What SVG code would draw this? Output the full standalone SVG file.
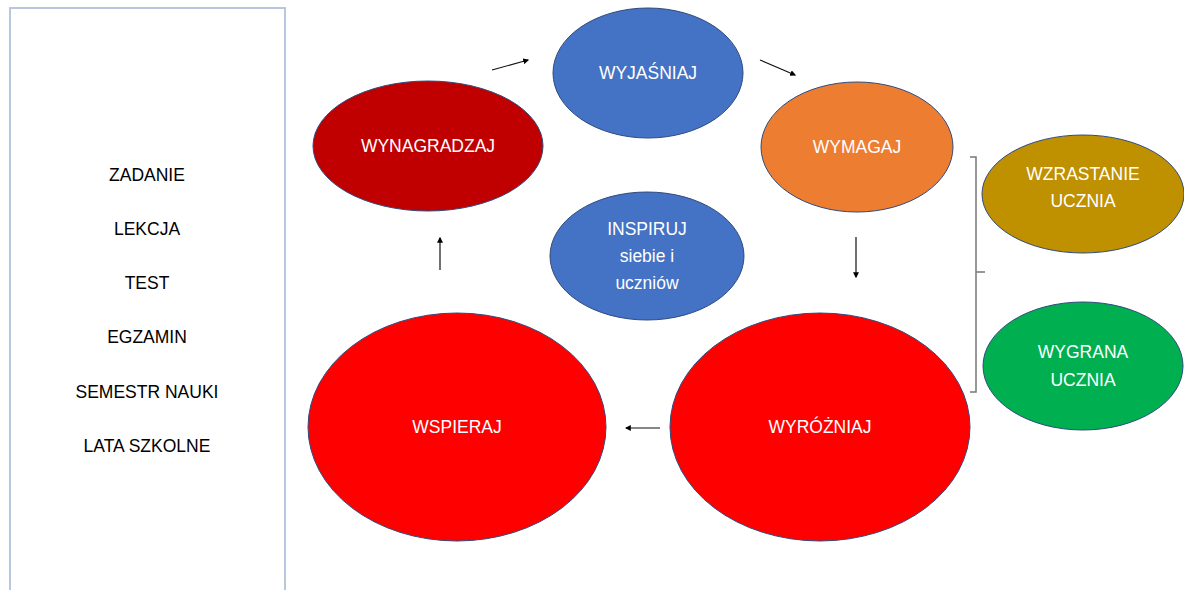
<svg xmlns="http://www.w3.org/2000/svg" width="1184" height="590" viewBox="0 0 1184 590">
<defs>
<marker id="ah" viewBox="0 0 10 10" refX="8" refY="5" markerWidth="5" markerHeight="5" orient="auto"><path d="M0,0 L10,5 L0,10 z" fill="#000"/></marker>
<style>
.lst{font-family:"Liberation Sans",Arial,sans-serif;font-size:17.5px;fill:#000;text-anchor:middle;dominant-baseline:central}
.lbl{font-family:"Liberation Sans",Arial,sans-serif;font-size:17.5px;fill:#fff;text-anchor:middle;dominant-baseline:central}
.el{stroke:#2f4b7c;stroke-width:1}
.cn{stroke:#111;stroke-width:1.2;fill:none;marker-end:url(#ah)}
</style>
</defs>
<rect width="1184" height="590" fill="#fff"/>
<g id="list">
<rect x="10" y="8" width="275" height="600" fill="#fff" stroke="#b8c6de" stroke-width="2"/>
<text class="lst" x="147" y="175">ZADANIE</text>
<text class="lst" x="147" y="229">LEKCJA</text>
<text class="lst" x="147" y="283">TEST</text>
<text class="lst" x="147" y="337">EGZAMIN</text>
<text class="lst" x="147" y="392">SEMESTR NAUKI</text>
<text class="lst" x="147" y="446">LATA SZKOLNE</text>
</g>
<g id="wynagradzaj"><ellipse class="el" cx="428" cy="146" rx="115" ry="65" fill="#c00000"/><text class="lbl" x="428" y="146">WYNAGRADZAJ</text></g>
<g id="wyjasniaj"><ellipse class="el" cx="648" cy="73" rx="95" ry="65" fill="#4472c4"/><text class="lbl" x="648" y="73">WYJAŚNIAJ</text></g>
<g id="wymagaj"><ellipse class="el" cx="857" cy="147" rx="96" ry="65" fill="#ed7d31"/><text class="lbl" x="857" y="147">WYMAGAJ</text></g>
<g id="inspiruj"><ellipse class="el" cx="647" cy="256" rx="97" ry="64" fill="#4472c4"/><text class="lbl" x="647" y="229">INSPIRUJ</text><text class="lbl" x="647" y="256">siebie i</text><text class="lbl" x="647" y="283">uczniów</text></g>
<g id="wspieraj"><ellipse class="el" cx="457" cy="427" rx="149" ry="114" fill="#ff0000"/><text class="lbl" x="457" y="427">WSPIERAJ</text></g>
<g id="wyrozniaj"><ellipse class="el" cx="820" cy="427" rx="150" ry="114" fill="#ff0000"/><text class="lbl" x="820" y="427">WYRÓŻNIAJ</text></g>
<g id="wzrastanie"><ellipse class="el" cx="1083" cy="194" rx="101" ry="59" fill="#bf9000"/><text class="lbl" x="1083" y="174">WZRASTANIE</text><text class="lbl" x="1083" y="201">UCZNIA</text></g>
<g id="wygrana"><ellipse class="el" cx="1083" cy="366" rx="100" ry="64" fill="#00b050"/><text class="lbl" x="1083" y="352">WYGRANA</text><text class="lbl" x="1083" y="380">UCZNIA</text></g>
<g id="connectors">
<path class="cn" d="M492,70 L528,60"/>
<path class="cn" d="M760,60 L795,75"/>
<path class="cn" d="M856,237 L856,277"/>
<path class="cn" d="M440,270 L440,238"/>
<path class="cn" d="M660,428 L626,428"/>
<path d="M970,157 L976,157 L976,392 L970,392 M976,272 L985,272" fill="none" stroke="#777" stroke-width="1.5"/>
</g>
</svg>
